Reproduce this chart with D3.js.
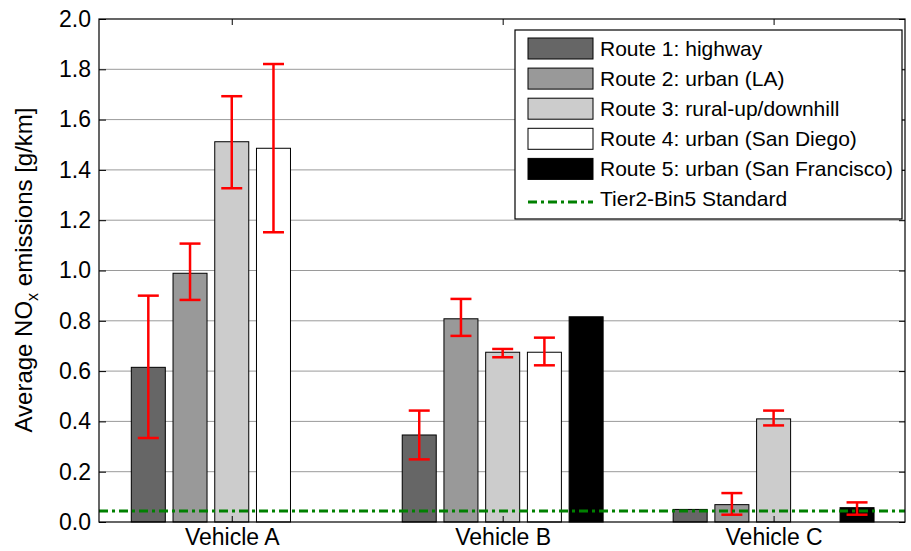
<!DOCTYPE html>
<html>
<head>
<meta charset="utf-8">
<script src="https://cdn.jsdelivr.net/npm/d3@7"></script>
<style>
  body { margin: 0; background: #fff; }
  text { font-family: "Liberation Sans", Arial, sans-serif; fill: #000; }
</style>
</head>
<body>
<div id="canvas"></div>
<script>
"use strict"

/* Data */
let vehicles = ["Vehicle A", "Vehicle B", "Vehicle C"];
let routes = ["Route 1: highway", "Route 2: urban (LA)", "Route 3: rural-up/downhill",
              "Route 4: urban (San Diego)", "Route 5: urban (San Francisco)"];
let route1 = [0.615, 0.346, 0.050];
let route2 = [0.989, 0.808, 0.069];
let route3 = [1.512, 0.675, 0.410];
let route4 = [1.486, 0.675, 0];
let route5 = [0, 0.816, 0.057];
// error bar ends (null = none drawn)
let low1 = [0.334, 0.249, null],  high1 = [0.900, 0.443, null];
let low2 = [0.883, 0.740, 0.029], high2 = [1.107, 0.887, 0.115];
let low3 = [1.327, 0.655, 0.384], high3 = [1.693, 0.688, 0.443];
let low4 = [1.152, 0.623, null],  high4 = [1.821, 0.733, null];
let low5 = [null, null, 0.029],   high5 = [null, null, 0.078];
let standardLabel = "Tier2-Bin5 Standard";
let standardValue = 0.0435;
let yTicks = [0, 0.2, 0.4, 0.6, 0.8, 1.0, 1.2, 1.4, 1.6, 1.8, 2.0];

/* Drawing config */
let svgWidth = 911;
let svgHeight = 551;
let plotLeft = 99, plotRight = 905, plotTop = 19, plotBottom = 522;
let routeColors = ["#666666", "#999999", "#cccccc", "#ffffff", "#000000"];

let values = [route1, route2, route3, route4, route5];
let lows = [low1, low2, low3, low4, low5];
let highs = [high1, high2, high3, high4, high5];

let svg = d3.select("#canvas")
    .append("svg")
    .attr("width", svgWidth)
    .attr("height", svgHeight);

let xScale = d3.scaleLinear()
    .domain([0.51, 3.485])
    .range([plotLeft, plotRight]);

let yScale = d3.scaleLinear()
    .domain([0, 2])
    .range([plotBottom, plotTop]);

let routeScale = d3.scaleBand()
    .domain(d3.range(routes.length))
    .range([-0.385, 0.385])
    .paddingInner(0.185)
    .paddingOuter(0.0925);

let unit = xScale(1) - xScale(0);

/* grid */
svg.append("g")
    .selectAll("line")
    .data(yTicks.slice(1, -1))
    .join("line")
    .attr("x1", plotLeft)
    .attr("x2", plotRight)
    .attr("y1", d => yScale(d))
    .attr("y2", d => yScale(d))
    .attr("stroke", "#9a9a9a")
    .attr("stroke-width", 1);

/* flatten to one record per bar */
let bars = [];
values.forEach(function(series, r) {
    series.forEach(function(v, i) {
        bars.push({route: r, vehicle: i, value: v, low: lows[r][i], high: highs[r][i]});
    });
});

function barX(d) { return xScale(d.vehicle + 1 + routeScale(d.route)); }
let barW = routeScale.bandwidth() * unit;

svg.append("g")
    .selectAll("rect")
    .data(bars.filter(d => d.value > 0))
    .join("rect")
    .attr("x", d => barX(d))
    .attr("y", d => yScale(d.value))
    .attr("width", barW)
    .attr("height", d => yScale(0) - yScale(d.value))
    .attr("fill", d => routeColors[d.route])
    .attr("stroke", "#000")
    .attr("stroke-width", 1);

/* error bars */
let errs = bars.filter(d => d.low != null);
let eg = svg.append("g")
    .attr("stroke", "#ff0000")
    .attr("stroke-width", 2.5);
let capHalf = 10.5;
errs.forEach(function(d) {
    let cx = barX(d) + barW / 2;
    eg.append("line")
        .attr("x1", cx).attr("x2", cx)
        .attr("y1", yScale(d.low)).attr("y2", yScale(d.high));
    eg.append("line")
        .attr("x1", cx - capHalf).attr("x2", cx + capHalf)
        .attr("y1", yScale(d.low)).attr("y2", yScale(d.low));
    eg.append("line")
        .attr("x1", cx - capHalf).attr("x2", cx + capHalf)
        .attr("y1", yScale(d.high)).attr("y2", yScale(d.high));
});

/* standard line */
svg.append("line")
    .attr("x1", plotLeft)
    .attr("x2", plotRight)
    .attr("y1", yScale(standardValue))
    .attr("y2", yScale(standardValue))
    .attr("stroke", "#008000")
    .attr("stroke-width", 3)
    .attr("stroke-dasharray", "9,4,3,4");

/* frame */
svg.append("rect")
    .attr("x", plotLeft)
    .attr("y", plotTop)
    .attr("width", plotRight - plotLeft)
    .attr("height", plotBottom - plotTop)
    .attr("fill", "none")
    .attr("stroke", "#000")
    .attr("stroke-width", 1.2);

/* y axis ticks and labels */
let yAxis = d3.axisLeft(yScale)
    .tickValues(yTicks)
    .tickFormat(d3.format(".1f"))
    .tickSizeInner(-7)
    .tickSizeOuter(0)
    .tickPadding(8);
let yg = svg.append("g")
    .attr("transform", "translate(" + plotLeft + ",0)")
    .call(yAxis);
yg.select(".domain").remove();
yg.selectAll("text")
    .attr("font-size", 23)
    .attr("font-family", "Liberation Sans, Arial, sans-serif");

let yRight = d3.axisRight(yScale)
    .tickValues(yTicks)
    .tickSizeInner(-6)
    .tickSizeOuter(0)
    .tickFormat("");
let yrg = svg.append("g")
    .attr("transform", "translate(" + plotRight + ",0)")
    .call(yRight);
yrg.select(".domain").remove();

/* x axis */
let xAxis = d3.axisBottom(xScale)
    .tickValues([1, 2, 3])
    .tickFormat((d, i) => vehicles[i])
    .tickSizeInner(-6)
    .tickSizeOuter(0)
    .tickPadding(10);
let xg = svg.append("g")
    .attr("transform", "translate(0," + plotBottom + ")")
    .call(xAxis);
xg.select(".domain").remove();
xg.selectAll("text")
    .attr("font-size", 23)
    .attr("dy", "0.55em")
    .attr("font-family", "Liberation Sans, Arial, sans-serif");

let xTop = d3.axisTop(xScale)
    .tickValues([1, 2, 3])
    .tickFormat("")
    .tickSizeInner(-6)
    .tickSizeOuter(0);
let xtg = svg.append("g")
    .attr("transform", "translate(0," + plotTop + ")")
    .call(xTop);
xtg.select(".domain").remove();

/* y axis title */
let yTitle = svg.append("text")
    .attr("transform", "translate(32,270) rotate(-90)")
    .attr("text-anchor", "middle")
    .attr("font-size", 24);
yTitle.append("tspan").text("Average NO");
yTitle.append("tspan")
    .attr("font-size", 16)
    .attr("dy", 6)
    .text("x");
yTitle.append("tspan")
    .attr("dy", -6)
    .text(" emissions [g/km]");

/* legend */
let lgX = 515, lgY = 30, lgW = 387, lgH = 189;
let legend = svg.append("g");
legend.append("rect")
    .attr("x", lgX)
    .attr("y", lgY)
    .attr("width", lgW)
    .attr("height", lgH)
    .attr("fill", "#fff")
    .attr("stroke", "#000")
    .attr("stroke-width", 1.2);

let rowY = d => 48.5 + d * 30.1;
legend.selectAll("rect.sw")
    .data(routes)
    .join("rect")
    .attr("class", "sw")
    .attr("x", 528)
    .attr("y", (d, i) => rowY(i) - 10.5)
    .attr("width", 65)
    .attr("height", 21)
    .attr("fill", (d, i) => routeColors[i])
    .attr("stroke", "#000")
    .attr("stroke-width", 1);

legend.selectAll("text.lb")
    .data(routes.concat([standardLabel]))
    .join("text")
    .attr("class", "lb")
    .attr("x", 600)
    .attr("y", (d, i) => rowY(i))
    .attr("dy", "0.35em")
    .attr("font-size", 21)
    .text(d => d);

legend.append("line")
    .attr("x1", 528)
    .attr("x2", 593)
    .attr("y1", rowY(5) + 3)
    .attr("y2", rowY(5) + 3)
    .attr("stroke", "#008000")
    .attr("stroke-width", 3)
    .attr("stroke-dasharray", "9,4,3,4");
</script>
</body>
</html>
